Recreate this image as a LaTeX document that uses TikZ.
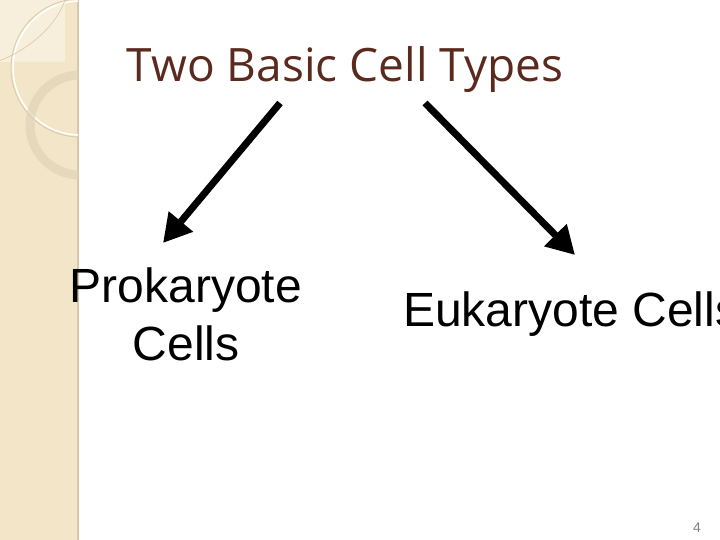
\documentclass[tikz,border=0pt]{standalone}
\usepackage{fontspec}
\setmainfont{Liberation Sans}
\newfontfamily\titlefont{Open Sans}
\usetikzlibrary{arrows.meta}
\definecolor{strip}{HTML}{F3E5C8}
\definecolor{stripedge}{HTML}{D8C8A8}
\definecolor{titlec}{HTML}{5A2A1E}
\tikzset{bigarrow/.style={line width=7pt,-{Triangle[length=28pt,width=30pt]}},
 body/.style={font=\fontsize{48}{58}\selectfont,align=center,inner sep=0pt}}
\begin{document}
\begin{tikzpicture}[x=1pt,y=-1pt]
\useasboundingbox (0,0) rectangle (720,540);
\begin{scope}
\clip (0,0) rectangle (720,540);
\fill[strip] (0,0) rectangle (78,540);
\draw[stripedge,line width=1.5pt] (78,0) -- (78,540);
\begin{scope}
\clip (0,0) rectangle (78,540);
\fill[white,opacity=0.35] (0,0) rectangle (65,62);
\draw[white,line width=1.5pt] (80,68) circle (67);
\draw[stripedge,line width=0.8pt] (80,68) circle (69);
\draw[stripedge!80!white,line width=9pt,opacity=0.7] (80,125) circle (50);
\draw[stripedge,line width=0.6pt] (-5,62) .. controls (20,55) and (55,30) .. (65,0);
\end{scope}
\node[font=\titlefont\fontsize{46}{52}\selectfont,text=titlec] (title) at (345,70) {Two Basic Cell Types};
\node[body] (pro) at (186,314) {Prokaryote\\Cells};
\node[body,anchor=west] (euk) at (403,314) {Eukaryote Cells};
\coordinate (a1) at (280,103);
\coordinate (a2) at (425,103);
\draw[bigarrow] (a1) -- (163,243);
\draw[bigarrow] (a2) -- (575,255);
\node[text=gray,font=\fontsize{14}{16}\selectfont] (pg) at (697,528) {4};
\end{scope}
\end{tikzpicture}
\end{document}
